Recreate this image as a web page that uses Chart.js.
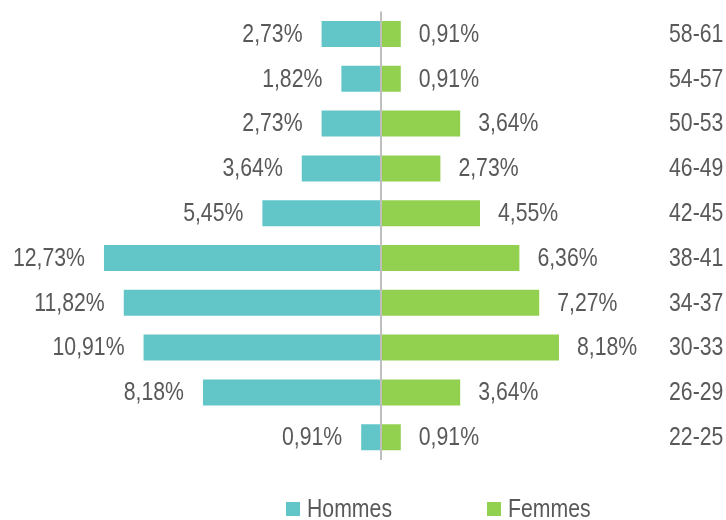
<!DOCTYPE html>
<html><head><meta charset="utf-8">
<script src="https://cdn.jsdelivr.net/npm/chart.js@4/dist/chart.umd.min.js"></script>
<style>html,body{margin:0;padding:0;background:#fff}#wrap{width:726px;height:520px}</style>
</head><body><div id="wrap"><canvas id="c" width="726" height="520"></canvas></div>
<script>
const categories = ['58-61','54-57','50-53','46-49','42-45','38-41','34-37','30-33','26-29','22-25'];
const hommes = [2.73,1.82,2.73,3.64,5.45,12.73,11.82,10.91,8.18,0.91];
const femmes = [0.91,0.91,3.64,2.73,4.55,6.36,7.27,8.18,3.64,0.91];
const seriesNames = ['Hommes','Femmes'];

const FONT = "'Liberation Sans',Arial,sans-serif";
const TXT = '#595959';
const C_H = '#62C6C8', C_F = '#92D050';
const SX = 0.85;
const fmt = v => v.toFixed(2).replace('.', ',') + '%';

function narrowText(ctx, text, x, y, align) {
  const w = ctx.measureText(text).width * SX;
  let left = x;
  if (align === 'right') left = x - w;
  else if (align === 'center') left = x - w / 2;
  ctx.save();
  ctx.translate(left, y);
  ctx.scale(SX, 1);
  ctx.textAlign = 'left';
  ctx.fillText(text, 0, 0);
  ctx.restore();
}

const labelPlugin = {
  id: 'labels',
  afterDatasetsDraw(chart) {
    const ctx = chart.ctx;
    ctx.save();
    ctx.font = '25px ' + FONT;
    ctx.fillStyle = TXT;
    ctx.textBaseline = 'middle';
    chart.data.datasets.forEach((ds, di) => {
      const meta = chart.getDatasetMeta(di);
      meta.data.forEach((bar, i) => {
        const raw = di === 0 ? hommes[i] : femmes[i];
        if (di === 0) narrowText(ctx, fmt(raw), bar.x - 19, bar.y + 1, 'right');
        else narrowText(ctx, fmt(raw), bar.x + 18, bar.y + 1, 'left');
      });
    });
    // category labels from the y scale
    const ys = chart.scales.y;
    ys.getLabels().forEach((lab, i) => {
      narrowText(ctx, lab, 669, ys.getPixelForValue(i) + 1, 'left');
    });
    // legend
    const items = [286, 487];
    chart.data.datasets.forEach((ds, di) => {
      const lx = items[di], ly = 509;
      ctx.fillStyle = ds.backgroundColor;
      ctx.fillRect(lx, ly - 7, 14, 14);
      ctx.fillStyle = TXT;
      narrowText(ctx, ds.label, lx + 21, ly + 1, 'left');
    });
    ctx.restore();
  }
};

new Chart(document.getElementById('c'), {
  type: 'bar',
  data: {
    labels: categories,
    datasets: [
      {label: seriesNames[0], data: hommes.map(v => -v), backgroundColor: C_H, barPercentage: 0.58, categoryPercentage: 1},
      {label: seriesNames[1], data: femmes, backgroundColor: C_F, barPercentage: 0.58, categoryPercentage: 1}
    ]
  },
  options: {
    indexAxis: 'y',
    responsive: false,
    animation: false,
    layout: {padding: {left: 32.8, top: 11.6, bottom: 60.4, right: 127.4}},
    plugins: {legend: {display: false}, tooltip: {enabled: false}},
    scales: {
      x: {
        stacked: true, min: -16, max: 10,
        ticks: {display: false, stepSize: 1},
        border: {display: false},
        grid: {drawTicks: false, color: c => c.tick && c.tick.value === 0 ? '#BFBFBF' : 'rgba(0,0,0,0)', lineWidth: 2}
      },
      y: {
        stacked: true, display: false
      }
    }
  },
  plugins: [labelPlugin]
});
</script></body></html>
